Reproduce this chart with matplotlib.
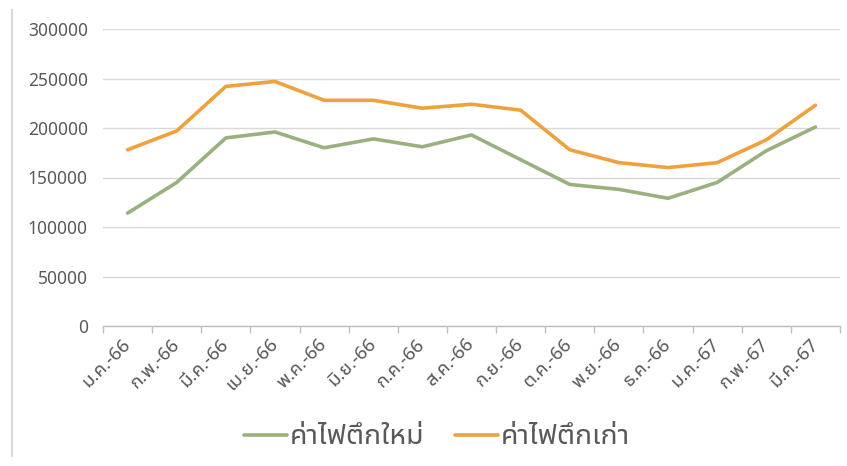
import matplotlib
matplotlib.use("Agg")
import matplotlib.pyplot as plt
from matplotlib.lines import Line2D
import numpy as np

plt.rcParams['font.family'] = ['Noto Sans Thai UI', 'Noto Sans', 'DejaVu Sans']

# ข้อมูล
months = ["ม.ค.-66", "ก.พ.-66", "มี.ค.-66", "เม.ย.-66", "พ.ค.-66", "มิ.ย.-66", "ก.ค.-66",
          "ส.ค.-66", "ก.ย.-66", "ต.ค.-66", "พ.ย.-66", "ธ.ค.-66", "ม.ค.-67", "ก.พ.-67", "มี.ค.-67"]
new_bldg = [114000, 145000, 190000, 196000, 180000, 189000, 181000, 193000,
            168000, 143000, 138000, 129000, 145000, 177000, 201000]
old_bldg = [178000, 197000, 242000, 247000, 228000, 228000, 220000, 224000,
            218000, 178000, 165000, 160000, 165000, 188000, 223000]

green = "#9BB07F"
orange = "#EFA13E"
gray_txt = "#595959"

fig = plt.figure(figsize=(8.47, 4.66), dpi=100)
ax = fig.add_axes([103 / 847, 1 - 326 / 466, (840 - 103) / 847, (326 - 29) / 466])

x = np.arange(len(months))
ax.plot(x, new_bldg, color=green, linewidth=2.6, label="ค่าไฟตึกใหม่", solid_capstyle="round")
ax.plot(x, old_bldg, color=orange, linewidth=2.6, label="ค่าไฟตึกเก่า", solid_capstyle="round")

ax.set_xlim(-0.5, len(months) - 0.5)
ax.set_ylim(0, 300000)
ax.set_yticks(range(0, 300001, 50000))
ax.grid(axis="y", color="#D9D9D9", linewidth=1)
ax.set_axisbelow(True)

for s in ["top", "right", "left"]:
    ax.spines[s].set_visible(False)
ax.spines["bottom"].set_color("#BFBFBF")
ax.spines["bottom"].set_linewidth(1)

ax.set_xticks(x)
ax.set_xticklabels(months, rotation=45, ha="right", va="center", rotation_mode="anchor")
ax.set_xticks(np.arange(-0.5, len(months)), minor=True)
ax.tick_params(axis="x", which="major", length=0, pad=11, labelsize=13.5, labelcolor=gray_txt)
ax.tick_params(axis="x", which="minor", length=5, color="#BFBFBF", width=1)
ax.tick_params(axis="y", length=0, pad=11, labelsize=12.5, labelcolor=gray_txt)

leg = fig.legend(loc="center", bbox_to_anchor=(437 / 847, 1 - 437 / 466), ncol=2, frameon=False,
                 fontsize=20.5, handlelength=1.5, handletextpad=0.1, columnspacing=1.1, labelcolor=gray_txt)

# เส้นขอบกรอบด้านซ้าย
fig.add_artist(Line2D([12 / 847, 12 / 847], [1 - 10 / 466, 1 - 456 / 466], color="#D9D9D9", linewidth=1.5))

fig.savefig("out.png")
